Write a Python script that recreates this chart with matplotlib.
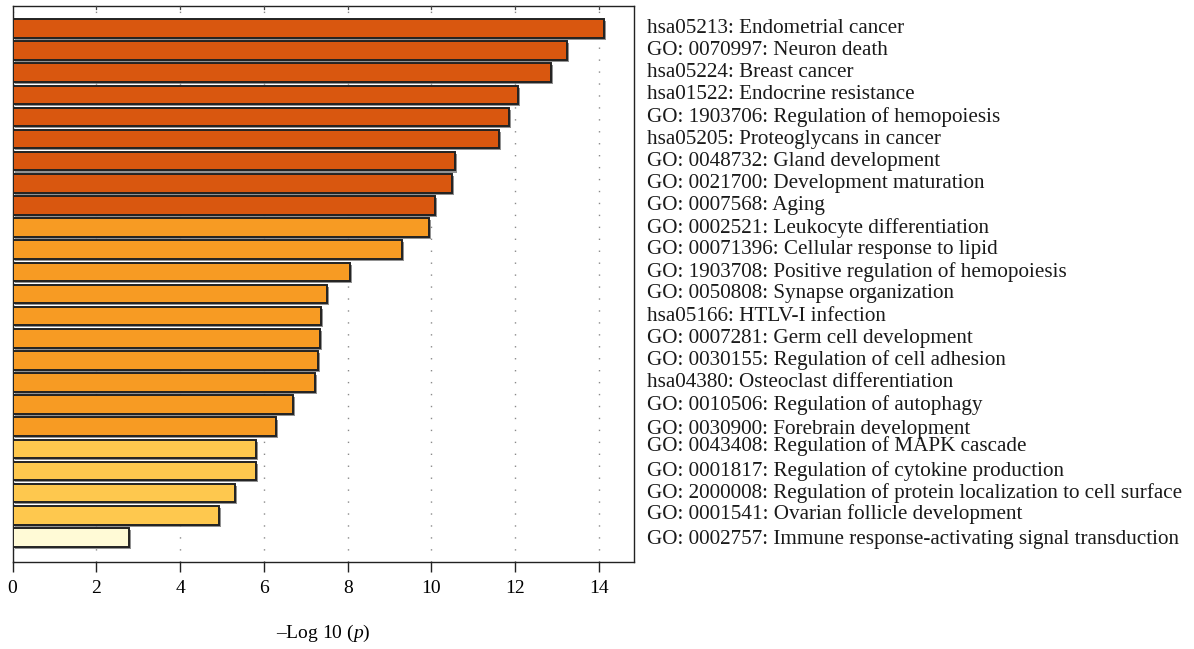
import matplotlib
matplotlib.use("Agg")
import matplotlib.pyplot as plt
import matplotlib.patheffects as pe

terms = [
    "hsa05213: Endometrial cancer",
    "GO: 0070997: Neuron death",
    "hsa05224: Breast cancer",
    "hsa01522: Endocrine resistance",
    "GO: 1903706: Regulation of hemopoiesis",
    "hsa05205: Proteoglycans in cancer",
    "GO: 0048732: Gland development",
    "GO: 0021700: Development maturation",
    "GO: 0007568: Aging",
    "GO: 0002521: Leukocyte differentiation",
    "GO: 00071396: Cellular response to lipid",
    "GO: 1903708: Positive regulation of hemopoiesis",
    "GO: 0050808: Synapse organization",
    "hsa05166: HTLV-I infection",
    "GO: 0007281: Germ cell development",
    "GO: 0030155: Regulation of cell adhesion",
    "hsa04380: Osteoclast differentiation",
    "GO: 0010506: Regulation of autophagy",
    "GO: 0030900: Forebrain development",
    "GO: 0043408: Regulation of MAPK cascade",
    "GO: 0001817: Regulation of cytokine production",
    "GO: 2000008: Regulation of protein localization to cell surface",
    "GO: 0001541: Ovarian follicle development",
    "GO: 0002757: Immune response-activating signal transduction",
]

neg_log10_p = [
    14.11, 13.24, 12.85, 12.07, 11.86, 11.62, 10.56, 10.50, 10.08,
    9.94, 9.29, 8.06, 7.51, 7.36, 7.35, 7.29, 7.22, 6.69, 6.30,
    5.81, 5.81, 5.32, 4.93, 2.79,
]

# significance tier of each term (0 = strongest)
tier = [0] * 9 + [1] * 10 + [2] * 4 + [3]

tier_colors = ["#D9570F", "#F79B23", "#FEC84E", "#FFFAD6"]

x_ticks = [0, 2, 4, 6, 8, 10, 12, 14]

# small vertical nudges for label rows that sit slightly off their bars
label_nudge = {18: 0.12, 19: -0.12, 22: -0.05, 23: 0.1}

serif = ["Liberation Serif", "DejaVu Serif"]
plt.rcParams["font.family"] = serif
plt.rcParams["mathtext.fontset"] = "custom"
plt.rcParams["mathtext.rm"] = "Liberation Serif"
plt.rcParams["mathtext.it"] = "Liberation Serif:italic"

fig = plt.figure(figsize=(11.94, 6.49), dpi=100)
ax = fig.add_axes([0.01047, 0.1345, 0.5203, 0.8558])

ypos = list(range(len(terms)))
colors = [tier_colors[t] for t in tier]

ax.grid(axis="x", color="#8a8a8a", linestyle=(0, (1, 7.6)), linewidth=1.0)
ax.set_axisbelow(True)

bars = ax.barh(ypos, neg_log10_p, height=0.84, color=colors,
               edgecolor="#222222", linewidth=1.4, zorder=3)
for b in bars:
    b.set_path_effects([
        pe.SimplePatchShadow(offset=(1.5, -1.5), shadow_rgbFace="#777777", alpha=0.8),
        pe.Normal(),
    ])

ax.set_xlim(0, 14.83)
ax.set_ylim(24.1, -1.0)
ax.set_yticks([])
ax.set_xticks(x_ticks)
ax.set_xticklabels([str(t) for t in x_ticks], fontsize=14)
ax.tick_params(axis="x", which="both", direction="out", length=7, width=1.0,
               color="#222222", pad=6, top=False)
for s in ax.spines.values():
    s.set_color("#222222")
    s.set_linewidth(1.0)

# short inward tick marks on the top edge
for t in x_ticks[1:]:
    ax.plot([t, t], [-1.0, -0.86], color="#444444", lw=0.9, clip_on=False, zorder=4)

ax.set_xlabel("\u2013Log 10 ($\\mathit{p}$)", fontsize=14, labelpad=19)

for i, name in enumerate(terms):
    y = i + label_nudge.get(i, 0.0)
    ax.text(1.022, y, name, transform=ax.get_yaxis_transform(),
            ha="left", va="center", fontsize=15.2, color="#1a1a1a")

fig.savefig("out.png", dpi=100, facecolor="white")
